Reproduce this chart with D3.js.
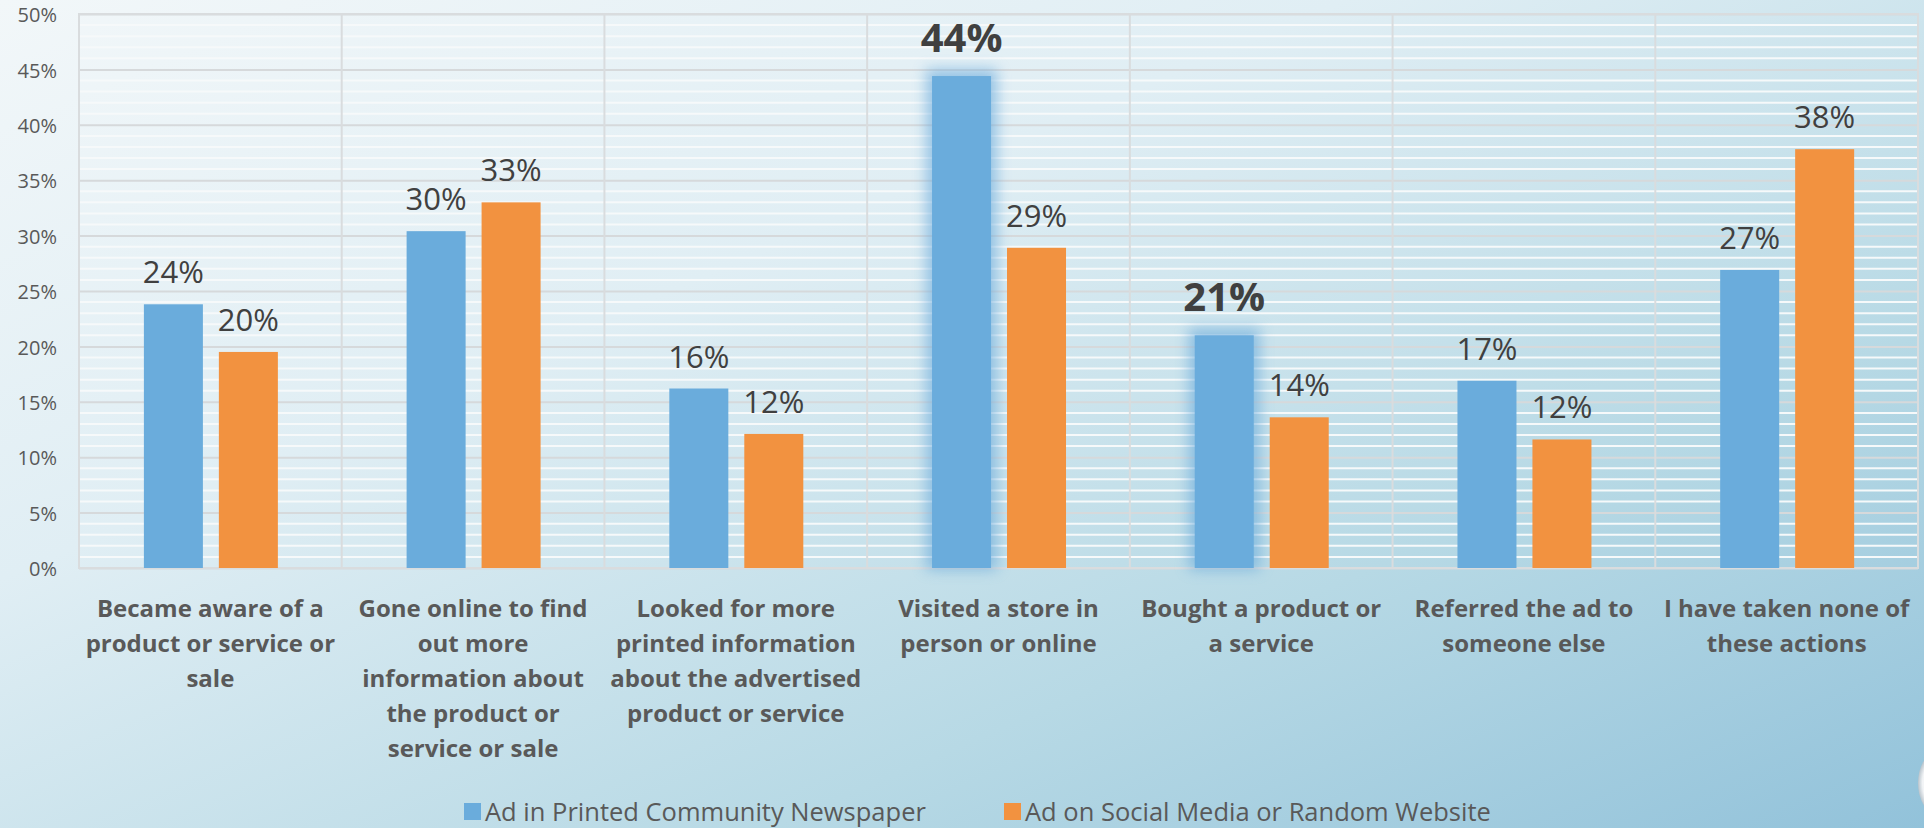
<!DOCTYPE html>
<html>
<head>
<meta charset="utf-8">
<script src="https://cdn.jsdelivr.net/npm/d3@7"></script>
<style>
  html, body { margin: 0; padding: 0; overflow: hidden; }
  svg { display: block; }
</style>
</head>
<body>
<script>
// Survey responses: actions taken after seeing an ad
const categories = [
  "Became aware of a\nproduct or service or\nsale",
  "Gone online to find\nout more\ninformation about\nthe product or\nservice or sale",
  "Looked for more\nprinted information\nabout the advertised\nproduct or service",
  "Visited a store in\nperson or online",
  "Bought a product or\na service",
  "Referred the ad to\nsomeone else",
  "I have taken none of\nthese actions"
];
const seriesNames = ["Ad in Printed Community Newspaper", "Ad on Social Media or Random Website"];
const printedValues = [23.8, 30.4, 16.2, 44.4, 21.0, 16.9, 26.9];
const socialValues  = [19.5, 33.0, 12.1, 28.9, 13.6, 11.6, 37.8];
const highlighted   = ["Visited a store in\nperson or online", "Bought a product or\na service"];
const yTicks = [0, 5, 10, 15, 20, 25, 30, 35, 40, 45, 50];
const colors = ["#6aacdc", "#f29240"];

const W = 1924, H = 828;
const margin = { left: 79, right: 6, top: 14, bottom: 260 };
const plotW = W - margin.left - margin.right;
const plotH = H - margin.top - margin.bottom;

const svg = d3.select("body").append("svg").attr("width", W).attr("height", H);
const defs = svg.append("defs");

const bg = defs.append("linearGradient").attr("id", "bg")
  .attr("x1", 0).attr("y1", 0).attr("x2", 1).attr("y2", 1);
bg.append("stop").attr("offset", 0).attr("stop-color", "#f2f7f9");
bg.append("stop").attr("offset", 0.35).attr("stop-color", "#e0eef4");
bg.append("stop").attr("offset", 0.7).attr("stop-color", "#b7d9e5");
bg.append("stop").attr("offset", 1).attr("stop-color", "#92c2da");

const glow = defs.append("filter").attr("id", "glow")
  .attr("x", "-60%").attr("y", "-30%").attr("width", "220%").attr("height", "160%");
glow.append("feGaussianBlur").attr("stdDeviation", 7);

const blob = defs.append("radialGradient").attr("id", "blob");
blob.append("stop").attr("offset", 0).attr("stop-color", "#ffffff");
blob.append("stop").attr("offset", 0.75).attr("stop-color", "#f2f4f6");
blob.append("stop").attr("offset", 1).attr("stop-color", "#b9c4cc");

svg.append("rect").attr("width", W).attr("height", H).attr("fill", "url(#bg)");
svg.append("ellipse").attr("cx", 1936).attr("cy", 783).attr("rx", 18).attr("ry", 30)
  .attr("fill", "url(#blob)");

const x0 = d3.scaleBand().domain(categories).range([0, plotW]).padding(0);
const x1 = d3.scaleBand().domain(seriesNames)
  .range([x0.bandwidth() * 0.247, x0.bandwidth() * 0.757]).paddingInner(0.213);
const y = d3.scaleLinear().domain([0, 50]).range([plotH, 0]);

const g = svg.append("g").attr("transform", `translate(${margin.left},${margin.top})`);

// minor gridlines every 1%
g.append("g").selectAll("line").data(d3.range(1, 50).filter(v => v % 5 !== 0)).join("line")
  .attr("x1", 0).attr("x2", plotW).attr("y1", d => y(d)).attr("y2", d => y(d))
  .attr("stroke", "#f6f9fa").attr("stroke-width", 2);

// major gridlines via axis
g.append("g").call(d3.axisLeft(y).tickValues(yTicks).tickSize(-plotW).tickFormat(""))
  .call(a => a.select(".domain").remove())
  .call(a => a.selectAll("line").attr("stroke", "#d6d9db").attr("stroke-width", 2));

// category separators
g.append("g").selectAll("line").data(categories.slice(1)).join("line")
  .attr("x1", d => x0(d)).attr("x2", d => x0(d)).attr("y1", 0).attr("y2", plotH)
  .attr("stroke", "#d9dcde").attr("stroke-width", 2);
g.append("rect").attr("width", plotW).attr("height", plotH)
  .attr("fill", "none").attr("stroke", "#d9dcde").attr("stroke-width", 2);

// y axis labels
g.append("g").call(d3.axisLeft(y).tickValues(yTicks).tickSize(0).tickPadding(22).tickFormat(d => d + "%"))
  .call(a => a.select(".domain").remove())
  .call(a => a.selectAll("text").attr("font-family", "'Open Sans'").attr("font-size", 20)
    .attr("fill", "#595959").attr("dy", "0.38em"));

const rows = categories.map((c, i) => ({
  cat: c,
  vals: [printedValues[i], socialValues[i]],
  hl: highlighted.includes(c)
}));

const groups = g.append("g").selectAll("g").data(rows).join("g")
  .attr("transform", d => `translate(${x0(d.cat)},0)`);

// soft glow behind highlighted bars
groups.filter(d => d.hl).append("rect")
  .attr("x", x1(seriesNames[0]) - 6).attr("width", x1.bandwidth() + 12)
  .attr("y", d => y(d.vals[0]) - 7).attr("height", d => plotH - y(d.vals[0]) + 9)
  .attr("fill", "#62a6da").attr("opacity", 0.6).attr("filter", "url(#glow)");

const bars = groups.selectAll("g.s").data(d => d.vals.map((v, k) => ({ v, k, hl: d.hl }))).join("g").attr("class", "s");
bars.append("rect")
  .attr("x", d => x1(seriesNames[d.k])).attr("width", x1.bandwidth())
  .attr("y", d => y(d.v)).attr("height", d => plotH - y(d.v))
  .attr("fill", d => colors[d.k]);

bars.append("text")
  .attr("x", d => x1(seriesNames[d.k]) + x1.bandwidth() / 2)
  .attr("y", d => y(d.v) - (d.hl && d.k === 0 ? 24 : 21))
  .attr("text-anchor", "middle")
  .attr("font-family", "'Open Sans'")
  .attr("font-size", d => d.hl && d.k === 0 ? 40 : 31)
  .attr("font-weight", d => d.hl && d.k === 0 ? 700 : 400)
  .attr("fill", "#404040")
  .text(d => Math.round(d.v) + "%");

// category labels
groups.append("text")
  .attr("text-anchor", "middle")
  .attr("font-family", "'Open Sans'").attr("font-weight", 700).attr("font-size", 24)
  .attr("fill", "#595959")
  .each(function (d) {
    d3.select(this).selectAll("tspan").data(d.cat.split("\n")).join("tspan")
      .attr("x", x0.bandwidth() / 2)
      .attr("y", (t, j) => plotH + 49 + j * 35)
      .text(t => t);
  });

// legend
const legend = svg.append("g").attr("font-family", "'Open Sans'").attr("font-size", 25.5).attr("fill", "#595959");
const legendX = [464, 1004];
seriesNames.forEach((s, k) => {
  legend.append("rect").attr("x", legendX[k]).attr("y", 803).attr("width", 17).attr("height", 17).attr("fill", colors[k]);
  legend.append("text").attr("x", legendX[k] + 21).attr("y", 821).text(s);
});
</script>
</body>
</html>
